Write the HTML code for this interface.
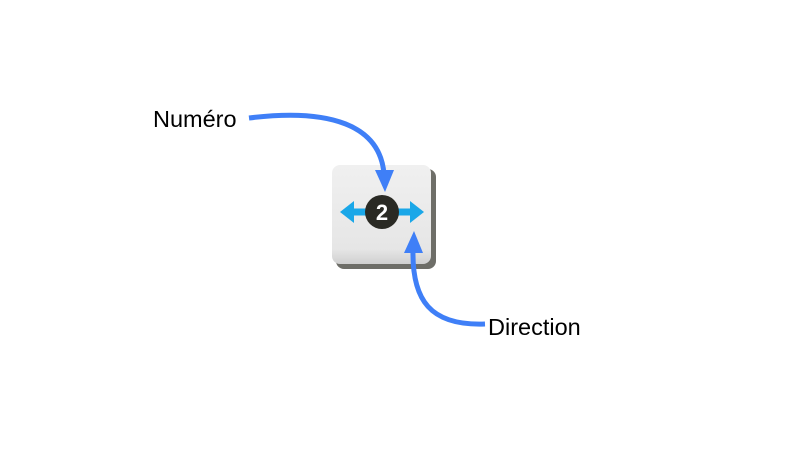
<html><body style="margin:0;width:788px;height:459px;background:#fff;position:relative;overflow:hidden;font-family:'Liberation Sans',sans-serif">
<div style="position:absolute;left:336px;top:169px;width:100px;height:100px;border-radius:8px;background:#6e6e68"></div>
<div style="position:absolute;left:332px;top:165px;width:99px;height:99px;border-radius:8px;background:linear-gradient(#f0f0f0,#e6e6e6 85%,#d0d0d0)"></div>
<svg width="788" height="459" style="position:absolute;left:0;top:0">
<line x1="350" y1="212" x2="414" y2="212" stroke="#1aa7e8" stroke-width="7"/>
<polygon points="340,212 354,201 354,223" fill="#1aa7e8"/>
<polygon points="424,212 410,201 410,223" fill="#1aa7e8"/>
<circle cx="382" cy="212" r="17" fill="#2a2a24"/>
<text x="382" y="220" text-anchor="middle" font-family="Liberation Sans" font-weight="bold" font-size="22" fill="#fff">2</text>
<path d="M249,118 C330,108 380,125 384,174" fill="none" stroke="#3f7ff7" stroke-width="5"/>
<polygon points="375,170 394,170 385,192" fill="#3f7ff7"/>
<path d="M485,324 C430,326 412,300 413,250" fill="none" stroke="#3f7ff7" stroke-width="5"/>
<polygon points="404,253 423,253 414,231" fill="#3f7ff7"/>
<text x="153" y="127" font-family="Liberation Sans" font-size="23.5" fill="#000">Numéro</text>
<text x="488" y="335" font-family="Liberation Sans" font-size="23.5" fill="#000">Direction</text>
</svg>
</body></html>
